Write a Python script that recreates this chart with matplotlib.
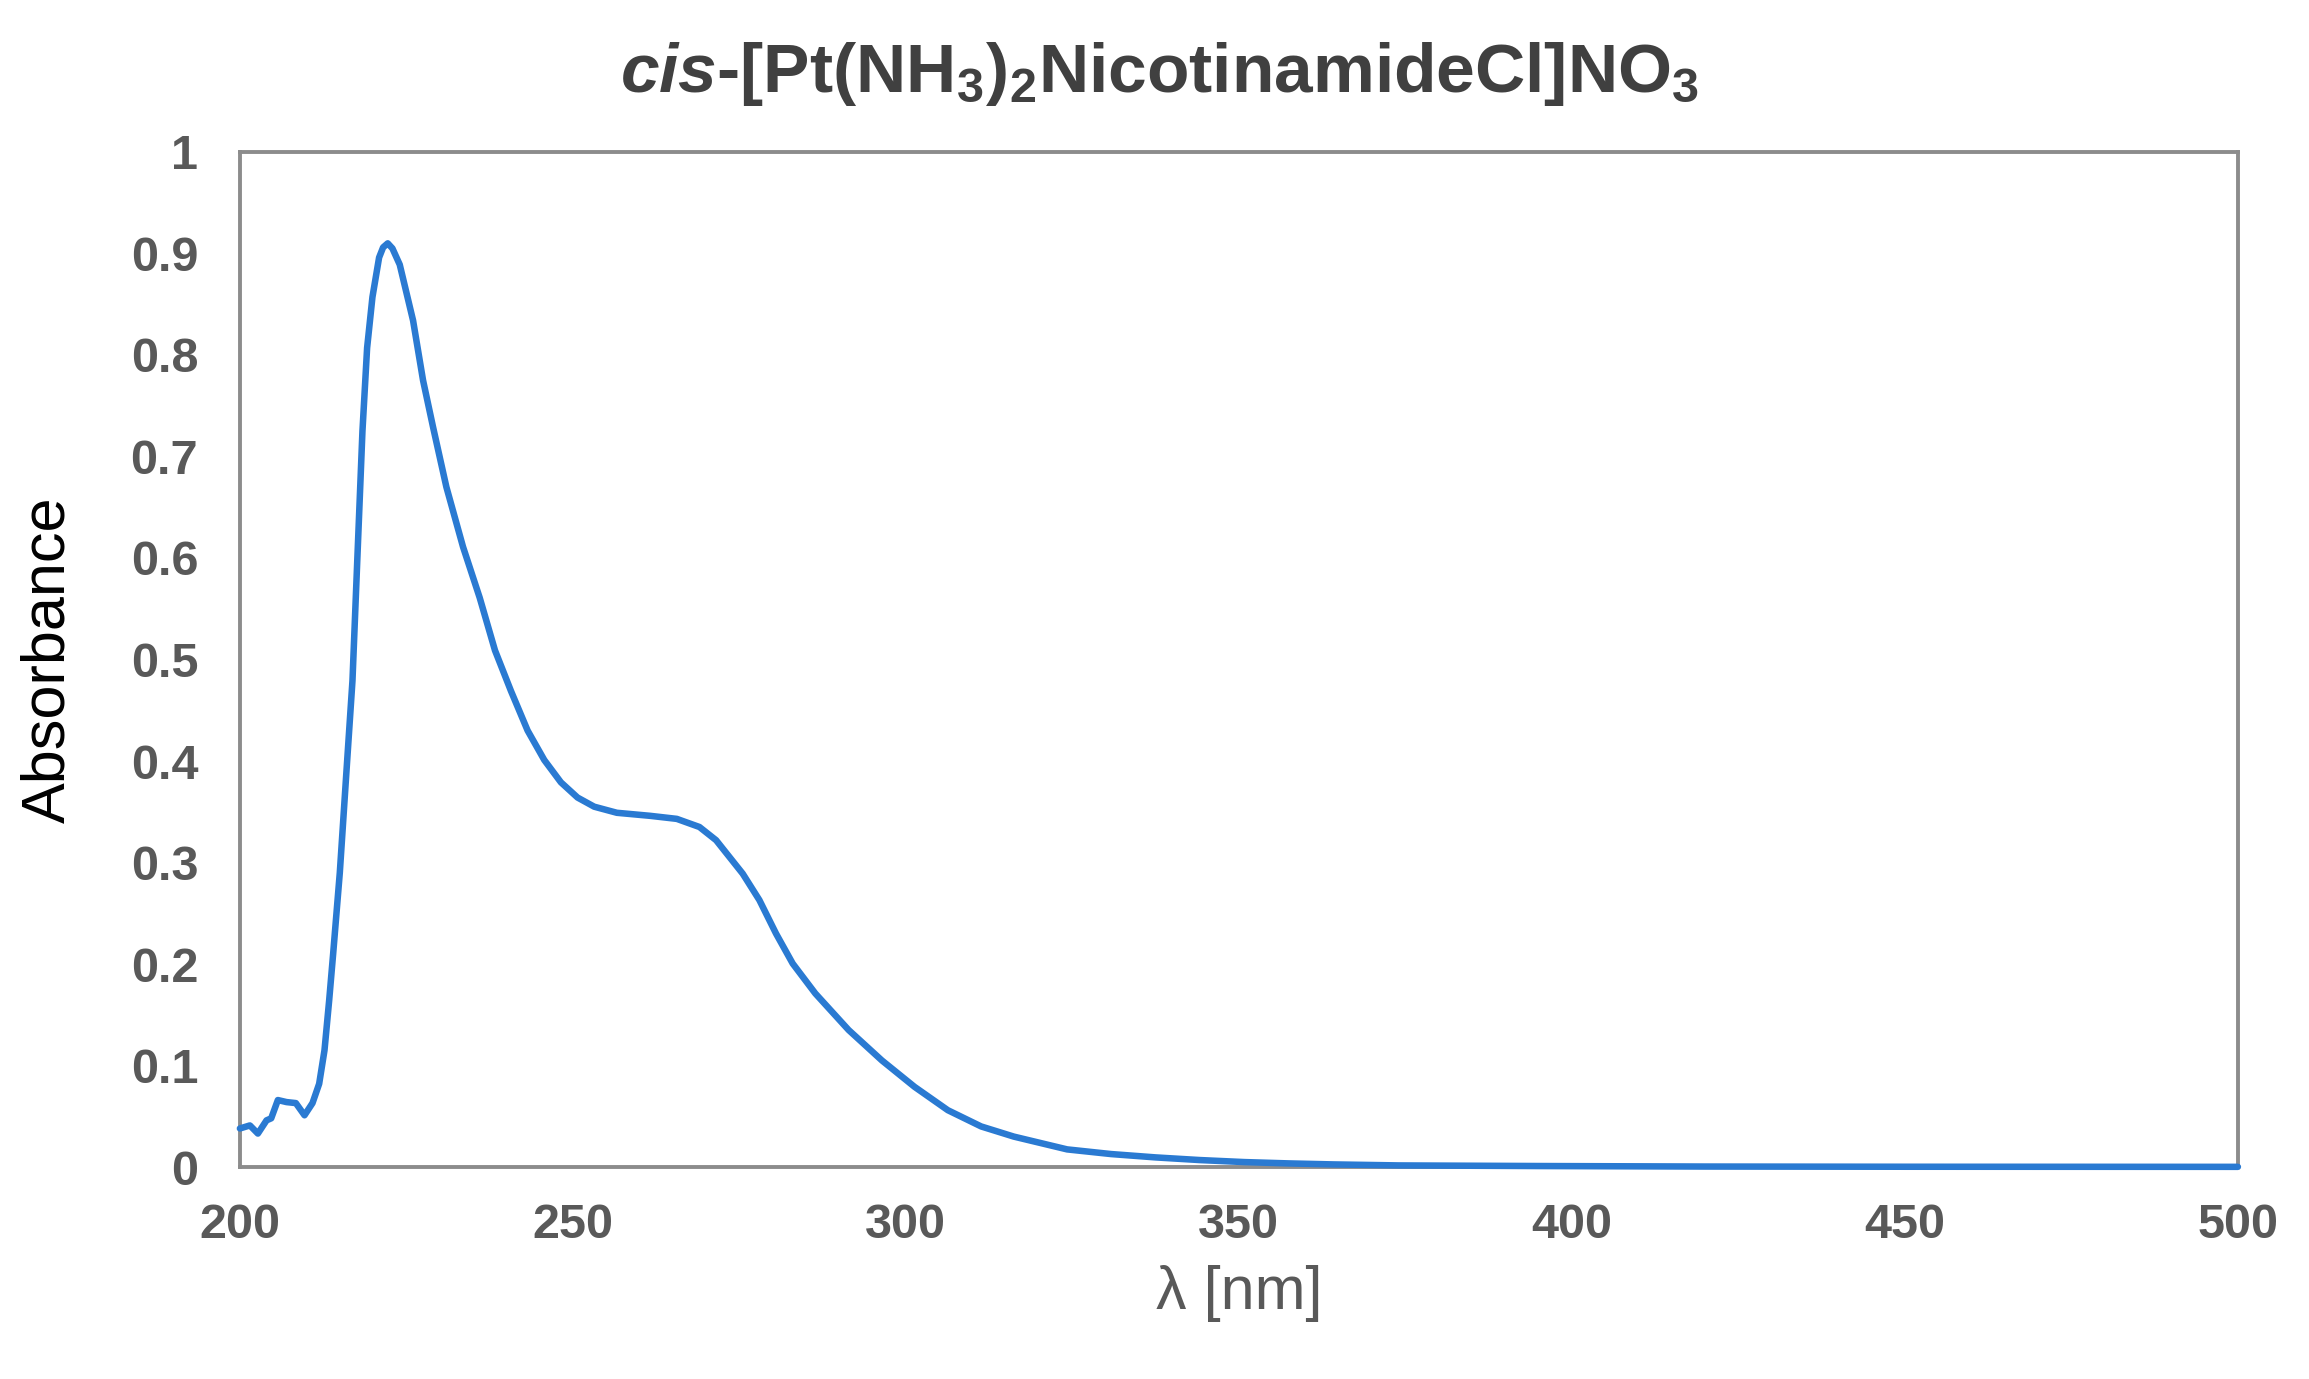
import matplotlib
matplotlib.use("Agg")
import matplotlib.pyplot as plt

# UV-Vis spectrum
wavelength = [200.0, 201.5, 202.7, 204.0, 204.7, 205.7, 207.0, 208.4, 209.7, 210.9,
              211.9, 212.7, 213.4, 214.0, 215.0, 216.0, 216.9, 217.4, 217.9, 218.4,
              219.1, 219.9, 220.9, 221.5, 222.2, 222.9, 224.0, 226.0, 227.5, 229.0,
              231.0, 233.5, 236.0, 238.3, 240.7, 243.2, 245.7, 248.2, 250.7, 253.2,
              256.6, 261.6, 265.6, 269.0, 271.5, 275.5, 278.0, 280.5, 283.0, 286.4,
              291.4, 296.4, 301.3, 306.3, 311.3, 316.2, 324.2, 330.8, 337.5, 344.1,
              350.8, 357.4, 364.1, 374.0, 395.0, 420.0, 450.0, 500.0]
absorbance = [0.038, 0.041, 0.033, 0.046, 0.048, 0.066, 0.064, 0.063, 0.051, 0.063,
              0.082, 0.115, 0.164, 0.210, 0.290, 0.390, 0.479, 0.561, 0.643, 0.725,
              0.807, 0.857, 0.896, 0.906, 0.910, 0.905, 0.889, 0.834, 0.775, 0.729,
              0.670, 0.611, 0.561, 0.509, 0.469, 0.430, 0.401, 0.379, 0.364, 0.355,
              0.349, 0.346, 0.343, 0.335, 0.322, 0.289, 0.263, 0.230, 0.2005, 0.171,
              0.135, 0.105, 0.079, 0.056, 0.040, 0.030, 0.0174, 0.0128, 0.0095, 0.0069,
              0.0049, 0.0036, 0.0026, 0.0016, 0.0010, 0.0005, 0.0003, 0.0002]

x_ticks = [200, 250, 300, 350, 400, 450, 500]
y_ticks = [0, 0.1, 0.2, 0.3, 0.4, 0.5, 0.6, 0.7, 0.8, 0.9, 1]
y_tick_labels = ["0", "0.1", "0.2", "0.3", "0.4", "0.5", "0.6", "0.7", "0.8", "0.9", "1"]

plt.rcParams['font.family'] = ['Liberation Sans', 'DejaVu Sans']
plt.rcParams['mathtext.fontset'] = 'custom'
plt.rcParams['mathtext.rm'] = 'Liberation Sans:bold'
plt.rcParams['mathtext.it'] = 'Liberation Sans:bold:italic'
plt.rcParams['mathtext.bf'] = 'Liberation Sans:bold'
plt.rcParams['mathtext.default'] = 'rm'

fig = plt.figure(figsize=(23.09, 13.79), dpi=100)
ax = fig.add_axes([0.1039, 0.1537, 0.8653, 0.7361])

ax.plot(wavelength, absorbance, color='#2A7AD2', lw=4.7, solid_joinstyle='round',
        solid_capstyle='round', zorder=3, clip_on=False)

ax.set_xlim(200, 500)
ax.set_ylim(0, 1)
ax.set_xticks(x_ticks)
ax.set_yticks(y_ticks)
ax.set_yticklabels(y_tick_labels)
ax.tick_params(length=0, labelsize=35, labelcolor='#595959')
ax.tick_params(axis='x', pad=26)
ax.tick_params(axis='y', pad=30)
for lab in ax.get_xticklabels() + ax.get_yticklabels():
    lab.set_fontweight('bold')

for side in ['left', 'right', 'top', 'bottom']:
    ax.spines[side].set_color('#8C8C8C')
    ax.spines[side].set_linewidth(2.8)

ax.set_xlabel(u'\u03bb [nm]', fontsize=44, color='#595959', labelpad=12)
ax.set_ylabel('Absorbance', fontsize=44, color='black', labelpad=38)

fig.text(0.502, 0.946, r'$\mathit{cis}$-[Pt(NH$_3$)$_2$NicotinamideCl]NO$_3$',
         ha='center', va='center', fontsize=50, fontweight='bold', color='#404040')

fig.savefig('out.png', dpi=100, facecolor='white')
